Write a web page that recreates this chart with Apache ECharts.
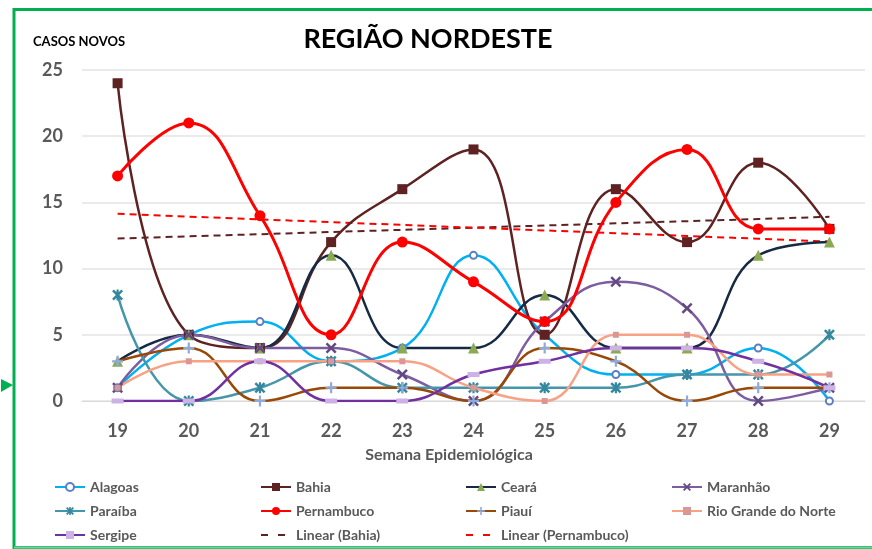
<!DOCTYPE html>
<html>
<head>
<meta charset="utf-8">
<script src="https://cdn.jsdelivr.net/npm/echarts@6/dist/echarts.min.js"></script>
<style>
  html, body { margin: 0; padding: 0; background: #fff; }
  #main { width: 872px; height: 549px; }
</style>
</head>
<body>
<div id="main"></div>
<script>
// semanas epidemiológicas
const semanas = ["19", "20", "21", "22", "23", "24", "25", "26", "27", "28", "29"];
const yTicks = [0, 5, 10, 15, 20, 25];

// casos novos por estado
const alagoas    = [1, 5, 6, 3, 4, 11, 5, 2, 2, 4, 0];
const bahia      = [24, 5, 4, 12, 16, 19, 5, 16, 12, 18, 13];
const ceara      = [3, 5, 4, 11, 4, 4, 8, 4, 4, 11, 12];
const maranhao   = [1, 5, 4, 4, 2, 0, 6, 9, 7, 0, 1];
const paraiba    = [8, 0, 1, 3, 1, 1, 1, 1, 2, 2, 5];
const pernambuco = [17, 21, 14, 5, 12, 9, 6, 15, 19, 13, 13];
const piaui      = [3, 4, 0, 1, 1, 0, 4, 3, 0, 1, 1];
const rgn        = [1, 3, 3, 3, 3, 1, 0, 5, 5, 2, 2];
const sergipe    = [0, 0, 3, 0, 0, 2, 3, 4, 4, 3, 1];

// linha de tendência (mínimos quadrados, como o Excel)
function linear(arr) {
  const n = arr.length;
  let sx = 0, sy = 0, sxy = 0, sxx = 0;
  arr.forEach((y, x) => { sx += x; sy += y; sxy += x * y; sxx += x * x; });
  const b = (n * sxy - sx * sy) / (n * sxx - sx * sx);
  const a = (sy - b * sx) / n;
  return arr.map((_, x) => +(a + b * x).toFixed(3));
}

const X_PATH = 'path://M0,1.6 L1.6,0 L5,3.4 L8.4,0 L10,1.6 L6.6,5 L10,8.4 L8.4,10 L5,6.6 L1.6,10 L0,8.4 L3.4,5 Z';
const PLUS_PATH = 'path://M4,0 H6 V4 H10 V6 H6 V10 H4 V6 H0 V4 H4 Z';
const STAR_PATH = 'path://M0,1.6 L1.6,0 L5,3.4 L8.4,0 L10,1.6 L6.6,5 L10,8.4 L8.4,10 L5,6.6 L1.6,10 L0,8.4 L3.4,5 Z M4,0 H6 V10 H4 Z';

function serie(name, data, color, symbol, size, markColor, extra) {
  return Object.assign({
    name: name,
    type: 'line',
    data: data,
    smooth: 0.45,
    symbol: symbol,
    symbolSize: size,
    showAllSymbol: true,
    lineStyle: { color: color, width: 2.5 },
    itemStyle: { color: markColor || color },
    emphasis: { disabled: true },
    z: 2
  }, extra || {});
}

const myChart = echarts.init(document.getElementById('main'), null, { renderer: 'canvas' });

const legendText = { color: '#595959', fontSize: 14, fontWeight: 'bold', fontFamily: 'Lato', lineHeight: 14 };
function legendCol(left, names) {
  return {
    orient: 'vertical', left: left, top: 480, height: 70, padding: 0, itemGap: 10,
    itemWidth: 30, itemHeight: 10, data: names, textStyle: legendText,
    selectedMode: false
  };
}
const trendLegend = name => ({ name: name, itemStyle: { opacity: 0 }, lineStyle: { type: [7, 10] } });

const option = {
  animation: false,
  backgroundColor: '#fff',
  title: {
    text: 'REGIÃO NORDESTE', left: 423, top: 21, textAlign: 'center',
    textStyle: { fontFamily: 'Lato', fontSize: 27, fontWeight: 'bold', color: '#000' }
  },
  graphic: [
    { type: 'rect', shape: { x: 14, y: 9.5, width: 880, height: 538 }, style: { fill: 'none', stroke: '#00B050', lineWidth: 3 }, silent: true },
    { type: 'line', shape: { x1: 14, y1: 547.5, x2: 872, y2: 547.5 }, style: { stroke: '#6CD59A', lineWidth: 2 }, silent: true },
    { type: 'polygon', shape: { points: [[1, 379], [13, 385], [1, 392]] }, style: { fill: '#00B050' }, silent: true },
    { type: 'text', x: 33, y: 42, style: { text: 'CASOS NOVOS', font: 'bold 13px Lato', fill: '#000', textVerticalAlign: 'middle' } },
    { type: 'text', x: 449, y: 455, style: { text: 'Semana Epidemiológica', font: 'bold 16px Lato', fill: '#595959', textAlign: 'center', textVerticalAlign: 'middle' } }
  ],
  legend: [
    legendCol(54, ['Alagoas', 'Paraíba', 'Sergipe']),
    legendCol(260, ['Bahia', 'Pernambuco', trendLegend('Linear (Bahia)')]),
    legendCol(465, ['Ceará', 'Piauí', trendLegend('Linear (Pernambuco)')]),
    legendCol(671, ['Maranhão', 'Rio Grande do Norte'])
  ],
  grid: { left: 82, right: 7, top: 70, bottom: 148 },
  xAxis: {
    type: 'category',
    data: semanas,
    boundaryGap: true,
    axisLine: { show: true, lineStyle: { color: '#D9D9D9' } },
    axisTick: { show: false },
    axisLabel: { color: '#595959', fontSize: 18, fontWeight: 'bold', fontFamily: 'Lato', margin: 21 }
  },
  yAxis: {
    type: 'value',
    min: yTicks[0], max: yTicks[yTicks.length - 1], interval: 5,
    axisLine: { show: false },
    axisTick: { show: false },
    splitLine: { lineStyle: { color: '#E3E3E3', width: 1.5 } },
    axisLabel: { color: '#595959', fontSize: 18, fontWeight: 'bold', fontFamily: 'Lato', margin: 19 }
  },
  series: [
    serie('Alagoas', alagoas, '#00B0F0', 'circle', 7, '#fff', { itemStyle: { color: '#fff', borderColor: '#5B7FC0', borderWidth: 2 } }),
    serie('Bahia', bahia, '#5F2222', 'rect', 10),
    serie('Ceará', ceara, '#172A43', 'triangle', 11, '#8BAA52'),
    serie('Maranhão', maranhao, '#7B5DA0', X_PATH, 11, '#62497F'),
    serie('Paraíba', paraiba, '#4596AB', STAR_PATH, 11, '#34889E'),
    serie('Pernambuco', pernambuco, '#FF0000', 'circle', 11, '#FF0000', { lineStyle: { color: '#FF0000', width: 3 } }),
    serie('Piauí', piaui, '#984807', PLUS_PATH, 11, '#8FAADC'),
    serie('Rio Grande do Norte', rgn, '#F9A185', 'rect', 6, '#D99795'),
    serie('Sergipe', sergipe, '#7030A0', 'rect', [12, 5], '#CDB2E6'),
    {
      name: 'Linear (Bahia)', type: 'line', data: linear(bahia), symbol: 'none',
      lineStyle: { color: '#5F2222', width: 2, type: [7, 5] }, itemStyle: { color: '#5F2222' }, z: 1
    },
    {
      name: 'Linear (Pernambuco)', type: 'line', data: linear(pernambuco), symbol: 'none',
      lineStyle: { color: '#FF0000', width: 2, type: [7, 5] }, itemStyle: { color: '#FF0000' }, z: 1
    }
  ]
};

myChart.setOption(option);
</script>
</body>
</html>
